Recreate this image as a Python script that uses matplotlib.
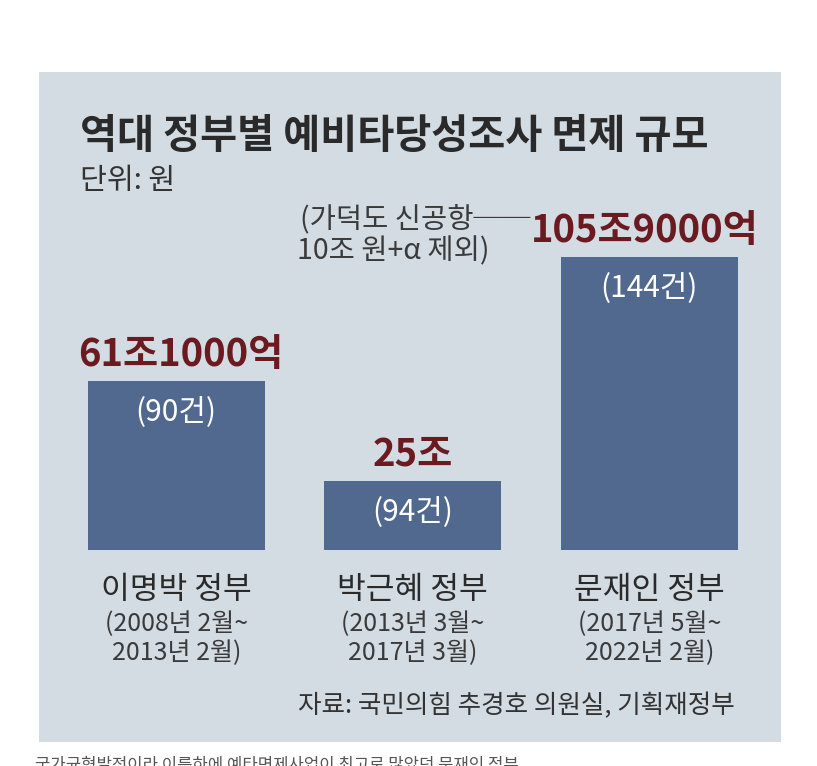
import matplotlib
matplotlib.use("Agg")
import matplotlib.pyplot as plt
from matplotlib.patches import Rectangle

plt.rcParams['font.family'] = ['Noto Sans CJK KR', 'DejaVu Sans']

# ---- data ----
governments = ["이명박 정부", "박근혜 정부", "문재인 정부"]
periods = ["(2008년 2월~\n2013년 2월)", "(2013년 3월~\n2017년 3월)", "(2017년 5월~\n2022년 2월)"]
amounts = [61.1, 25.0, 105.9]          # 조 원
amount_labels = ["61조1000억", "25조", "105조9000억"]
counts = [90, 94, 144]
count_labels = [f"({c}건)" for c in counts]

title = "역대 정부별 예비타당성조사 면제 규모"
unit = "단위: 원"
note1 = "(가덕도 신공항──"
note2 = "10조 원+α 제외)"
source = "자료: 국민의힘 추경호 의원실, 기획재정부"
caption = "국가균형발전이라 이름하에 예타면제사업이 최고로 많았던 문재인 정부"

W, H = 817, 766
fig = plt.figure(figsize=(W / 100, H / 100), dpi=100)
fig.patch.set_facecolor("white")

def fx(px):
    return px / W

def fy(py):
    return 1 - py / H

# background panel
fig.patches.append(Rectangle((fx(39), fy(742)), fx(781) - fx(39), fy(72) - fy(742),
                             transform=fig.transFigure, facecolor="#d3dbe3",
                             edgecolor="none", zorder=-5))

bar_color = "#52698f"
red = "#6b1a20"
dark = "#2a2a2a"

# bar axes
ax = fig.add_axes([fx(58), fy(550), fx(767.5) - fx(58), fy(245.3) - fy(550)])
ax.set_zorder(2)
ax.set_xlim(-0.5, 2.5)
ax.set_ylim(0, 110)
ax.set_axis_off()
ax.patch.set_alpha(0)

x = list(range(len(amounts)))
ax.bar(x, amounts, width=0.748, color=bar_color, edgecolor="none")

for i, (v, lab, cl) in enumerate(zip(amounts, amount_labels, count_labels)):
    dx = -4 if i == 2 else 5 if i == 0 else 0
    ax.annotate(lab, (i, v), xytext=(dx, 15), textcoords="offset pixels",
                ha="center", va="baseline", fontsize=27.5, fontweight="bold",
                color=red, annotation_clip=False)
    ax.annotate(cl, (i, v), xytext=(0, -16), textcoords="offset pixels",
                ha="center", va="top", fontsize=21.5, color="white")
    ax.annotate(governments[i], (i, 0), xytext=(0, -49), textcoords="offset pixels",
                ha="center", va="baseline", fontsize=22.5, color=dark,
                annotation_clip=False)
    ax.annotate(periods[i], (i, 0), xytext=(0, -61), textcoords="offset pixels",
                ha="center", va="top", fontsize=18, color="#3a3a3a",
                linespacing=1.15, annotation_clip=False)

# texts
fig.text(fx(80), fy(148), title, fontsize=29, fontweight="bold", color=dark,
         ha="left", va="baseline")
fig.text(fx(80), fy(189), unit, fontsize=21, color="#333333", ha="left", va="baseline")
fig.text(fx(300), fy(228), note1, fontsize=20.5, color="#3a3a3a", ha="left", va="baseline")
fig.text(fx(297), fy(259), note2, fontsize=20.5, color="#3a3a3a", ha="left", va="baseline")
fig.text(fx(516), fy(706), source, fontsize=18.4, color="#333333", ha="center", va="center")
fig.text(fx(35), fy(757), caption, fontsize=12, color="#555555", ha="left", va="top")

fig.savefig("out.png", dpi=100, facecolor="white")
